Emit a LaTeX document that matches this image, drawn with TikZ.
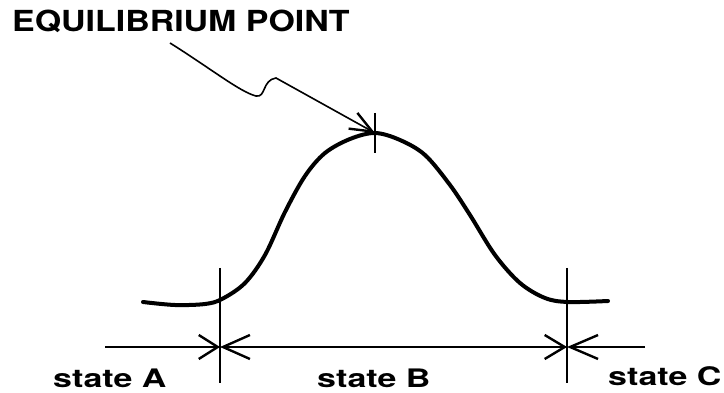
\documentclass[tikz,border=0pt]{standalone}
\usepackage{fontspec}
\setmainfont{TeX Gyre Heros}
\usetikzlibrary{arrows.meta}
\tikzset{
  thin line/.style={line width=1.6pt},
  curve line/.style={line width=4pt, line cap=round, line join=round},
  label text/.style={inner sep=0pt, anchor=base west, font=\fontsize{25.5}{26}\selectfont\bfseries},
  rbarb/.style={-{Straight Barb[length=19pt,width=24pt,line width=2.4pt]}},
}
\begin{document}
\begin{tikzpicture}[x=1pt,y=-1pt]
\useasboundingbox (0,0) rectangle (724,393);
% title
\node[inner sep=0pt, anchor=base west, font=\fontsize{29}{30}\selectfont\bfseries] (title) at (12,32) {\scalebox{1.17}[1]{EQUILIBRIUM POINT}};
% coordinates
\coordinate (peak) at (375,133);
\coordinate (lead) at (170,43);
\coordinate (pA) at (220,347);
\coordinate (pC) at (567,347);
\coordinate (lineL) at (105,347);
\coordinate (lineR) at (645,347);
% main curve
\draw[curve line] plot[smooth, tension=0.55] coordinates {(143,302) (175,305) (205,304) (222,299) (245,283) (265,255) (285,212) (305,176) (325,153) (350,139) (375,133) (400,140) (425,155) (450,185) (470,215) (495,255) (520,283) (545,298) (568,302) (608,301)};
% peak tick
\draw[thin line] (375,113) -- (375,153);
% leader
\draw[thin line, -{Straight Barb[length=22pt,width=18pt,line width=2.4pt]}] (lead) .. controls (210,68) and (240,92) .. (256,96) .. controls (266,98) and (262,80) .. (276,78) -- (peak);
% vertical boundaries
\draw[thin line] (220,268) -- (220,383);
\draw[thin line] (567,268) -- (567,383);
% horizontal dimension lines
\draw[thin line, rbarb] (lineL) -- (pA);
\draw[thin line, {Straight Barb[length=27pt,width=24pt,line width=2.4pt]}-{Straight Barb[length=20pt,width=24pt,line width=2.4pt]}] (pA) -- (pC);
\draw[thin line, -{Straight Barb[length=28pt,width=24pt,line width=2.4pt]}] (lineR) -- (pC);
% labels
\node[label text] (sA) at (53,388) {\scalebox{1.33}[1]{state A}};
\node[label text] (sB) at (317,387) {\scalebox{1.33}[1]{state B}};
\node[label text] (sC) at (608,385) {\scalebox{1.33}[1]{state C}};
\end{tikzpicture}
\end{document}
